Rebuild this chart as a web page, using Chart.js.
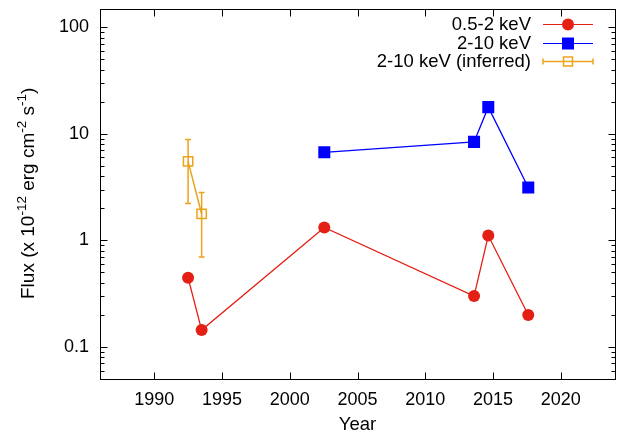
<!DOCTYPE html>
<html>
<head>
<meta charset="utf-8">
<script src="https://cdn.jsdelivr.net/npm/chart.js@4.4.1/dist/chart.umd.min.js"></script>
<style>
  html, body { margin: 0; padding: 0; background: #fff; }
</style>
</head>
<body>
<canvas id="chart" width="625" height="436"></canvas>
<script>
// Values
const softYears = [1992.5, 1993.5, 2002.55, 2013.6, 2014.65, 2017.6];
const softFlux = [0.446, 0.144, 1.32, 0.30, 1.11, 0.199];

const hardYears = [2002.55, 2013.6, 2014.65, 2017.6];
const hardFlux = [6.7, 8.4, 17.8, 3.14];

const inferredYears = [1992.5, 1993.5];
const inferredFlux = [5.52, 1.77];
const inferredLow = [2.22, 0.70];
const inferredHigh = [8.84, 2.82];

const xTickYears = [1990, 1995, 2000, 2005, 2010, 2015, 2020];
const yDecades = [0.1, 1, 10, 100];

const seriesLabels = ["0.5-2 keV", "2-10 keV", "2-10 keV (inferred)"];
const yTitleParts = [
  ["Flux (x 10", false], ["-12", true], [" erg cm", false],
  ["-2", true], [" s", false], ["-1", true], [")", false],
];
const xTitle = "Year";

const red = "#e41f14";
const blue = "#0000ff";
const orange = "#eca21c";
const fontFamily = '"Liberation Sans", Arial, Helvetica, sans-serif';

const toPoints = (xs, ys) => xs.map((x, i) => ({ x: x, y: ys[i] }));

// gnuplot-like frame with inward ticks on all four sides
const framePlugin = {
  id: "frame",
  beforeDatasetsDraw(chart) {
    const { ctx, chartArea: a, scales } = chart;
    const L = Math.round(a.left) + 0.5;
    const R = Math.round(a.right) + 0.5;
    const T = Math.round(a.top) + 0.5;
    const B = Math.round(a.bottom) + 0.5;
    ctx.save();
    ctx.strokeStyle = "#000";
    ctx.lineWidth = 1;
    ctx.strokeRect(L, T, R - L, B - T);
    ctx.beginPath();
    scales.x.ticks.forEach((t) => {
      const px = Math.round(scales.x.getPixelForValue(t.value)) + 0.5;
      ctx.moveTo(px, B); ctx.lineTo(px, B - 7);
      ctx.moveTo(px, T); ctx.lineTo(px, T + 7);
    });
    scales.y.ticks.forEach((t) => {
      const py = Math.round(scales.y.getPixelForValue(t.value)) + 0.5;
      const len = t.major ? 7 : 4;
      ctx.moveTo(L, py); ctx.lineTo(L + len, py);
      ctx.moveTo(R, py); ctx.lineTo(R - len, py);
    });
    ctx.stroke();
    ctx.restore();
  },
};

// vertical error bars for the inferred points
const errorBarPlugin = {
  id: "errorBars",
  beforeDatasetsDraw(chart) {
    const { ctx, scales } = chart;
    ctx.save();
    ctx.strokeStyle = orange;
    ctx.lineWidth = 1.5;
    ctx.beginPath();
    inferredYears.forEach((yr, i) => {
      const px = scales.x.getPixelForValue(yr);
      const lo = scales.y.getPixelForValue(inferredLow[i]);
      const hi = scales.y.getPixelForValue(inferredHigh[i]);
      ctx.moveTo(px, lo); ctx.lineTo(px, hi);
      ctx.moveTo(px - 3, lo); ctx.lineTo(px + 3, lo);
      ctx.moveTo(px - 3, hi); ctx.lineTo(px + 3, hi);
    });
    ctx.stroke();
    ctx.restore();
  },
};

// legend (text right-aligned, sample to the right) and axis titles
const textPlugin = {
  id: "texts",
  afterDraw(chart) {
    const { ctx, chartArea: a } = chart;
    ctx.save();

    // legend
    const x0 = 543, x1 = 593, xm = 568;
    chart.data.datasets.forEach((ds, i) => {
      const y = Math.round(24 + i * 18.6) + 0.5;
      ctx.font = "18.5px " + fontFamily;
      ctx.textAlign = "right";
      ctx.textBaseline = "middle";
      ctx.fillStyle = "#000";
      ctx.fillText(ds.label, 531, y);
      ctx.strokeStyle = ds.borderColor;
      ctx.lineWidth = i === 2 ? 1.5 : 1.2;
      ctx.beginPath();
      ctx.moveTo(x0, y); ctx.lineTo(x1, y);
      if (i === 2) {
        ctx.moveTo(x0, y - 3); ctx.lineTo(x0, y + 3);
        ctx.moveTo(x1, y - 3); ctx.lineTo(x1, y + 3);
      }
      ctx.stroke();
      if (i === 0) {
        ctx.fillStyle = ds.borderColor;
        ctx.beginPath();
        ctx.arc(xm, y, 6, 0, Math.PI * 2);
        ctx.fill();
      } else if (i === 1) {
        ctx.fillStyle = ds.borderColor;
        ctx.fillRect(xm - 6, y - 6, 12, 12);
      } else {
        ctx.lineWidth = 1.5;
        ctx.strokeRect(xm - 4.5, y - 4.5, 9, 9);
      }
    });

    // x title
    ctx.fillStyle = "#000";
    ctx.font = "18.5px " + fontFamily;
    ctx.textAlign = "center";
    ctx.textBaseline = "middle";
    ctx.fillText(xTitle, (a.left + a.right) / 2, 425);

    // y title with superscripts
    ctx.translate(34, 299);
    ctx.rotate(-Math.PI / 2);
    ctx.textAlign = "left";
    ctx.textBaseline = "alphabetic";
    let cx = 0;
    yTitleParts.forEach(([txt, sup]) => {
      ctx.font = (sup ? "13.5px " : "19px ") + fontFamily;
      ctx.fillText(txt, cx, sup ? -8 : 0);
      cx += ctx.measureText(txt).width;
    });
    ctx.restore();
  },
};

new Chart(document.getElementById("chart"), {
  type: "line",
  data: {
    datasets: [
      {
        label: seriesLabels[0],
        data: toPoints(softYears, softFlux),
        borderColor: red,
        backgroundColor: red,
        borderWidth: 1.3,
        pointStyle: "circle",
        pointRadius: 6,
        pointBorderWidth: 0,
        pointBackgroundColor: red,
        tension: 0,
      },
      {
        label: seriesLabels[1],
        data: toPoints(hardYears, hardFlux),
        borderColor: blue,
        backgroundColor: blue,
        borderWidth: 1.3,
        pointStyle: "rect",
        pointRadius: 8.5,
        pointBorderWidth: 0,
        pointBackgroundColor: blue,
        tension: 0,
      },
      {
        label: seriesLabels[2],
        data: toPoints(inferredYears, inferredFlux),
        borderColor: orange,
        backgroundColor: "rgba(0,0,0,0)",
        borderWidth: 1.5,
        pointStyle: "rect",
        pointRadius: 6.6,
        pointBorderWidth: 1.5,
        pointBorderColor: orange,
        pointBackgroundColor: "rgba(0,0,0,0)",
        tension: 0,
      },
    ],
  },
  options: {
    responsive: false,
    animation: false,
    events: [],
    layout: { padding: { top: 8, right: 10, left: 0, bottom: 0 } },
    plugins: { legend: { display: false }, tooltip: { enabled: false } },
    scales: {
      x: {
        type: "linear",
        min: 1986,
        max: 2024,
        grid: { display: false, drawTicks: false },
        border: { display: false },
        afterBuildTicks: (scale) => {
          scale.ticks = xTickYears.map((v) => ({ value: v }));
        },
        afterFit: (scale) => {
          scale.height = 57;
          scale.paddingLeft = 0;
          scale.paddingRight = 0;
        },
        ticks: {
          autoSkip: false,
          maxRotation: 0,
          padding: 10,
          color: "#000",
          font: { family: fontFamily, size: 18 },
          callback: (v) => String(v),
        },
      },
      y: {
        type: "logarithmic",
        min: 0.05,
        max: 150,
        grid: { display: false, drawTicks: false },
        border: { display: false },
        afterBuildTicks: (scale) => {
          const t = [];
          yDecades.concat([0.01]).forEach((d) => {
            for (let m = 1; m <= 9; m++) {
              const v = +(m * d).toPrecision(3);
              if (v >= scale.min && v <= scale.max) t.push({ value: v, major: m === 1 });
            }
          });
          t.sort((p, q) => p.value - q.value);
          scale.ticks = t;
        },
        afterFit: (scale) => {
          scale.width = 100;
          scale.paddingTop = 0;
          scale.paddingBottom = 0;
        },
        ticks: {
          autoSkip: false,
          padding: 11,
          color: "#000",
          font: { family: fontFamily, size: 18 },
          callback: (v) => (yDecades.includes(v) ? String(v) : ""),
        },
      },
    },
  },
  plugins: [framePlugin, errorBarPlugin, textPlugin],
});
</script>
</body>
</html>
